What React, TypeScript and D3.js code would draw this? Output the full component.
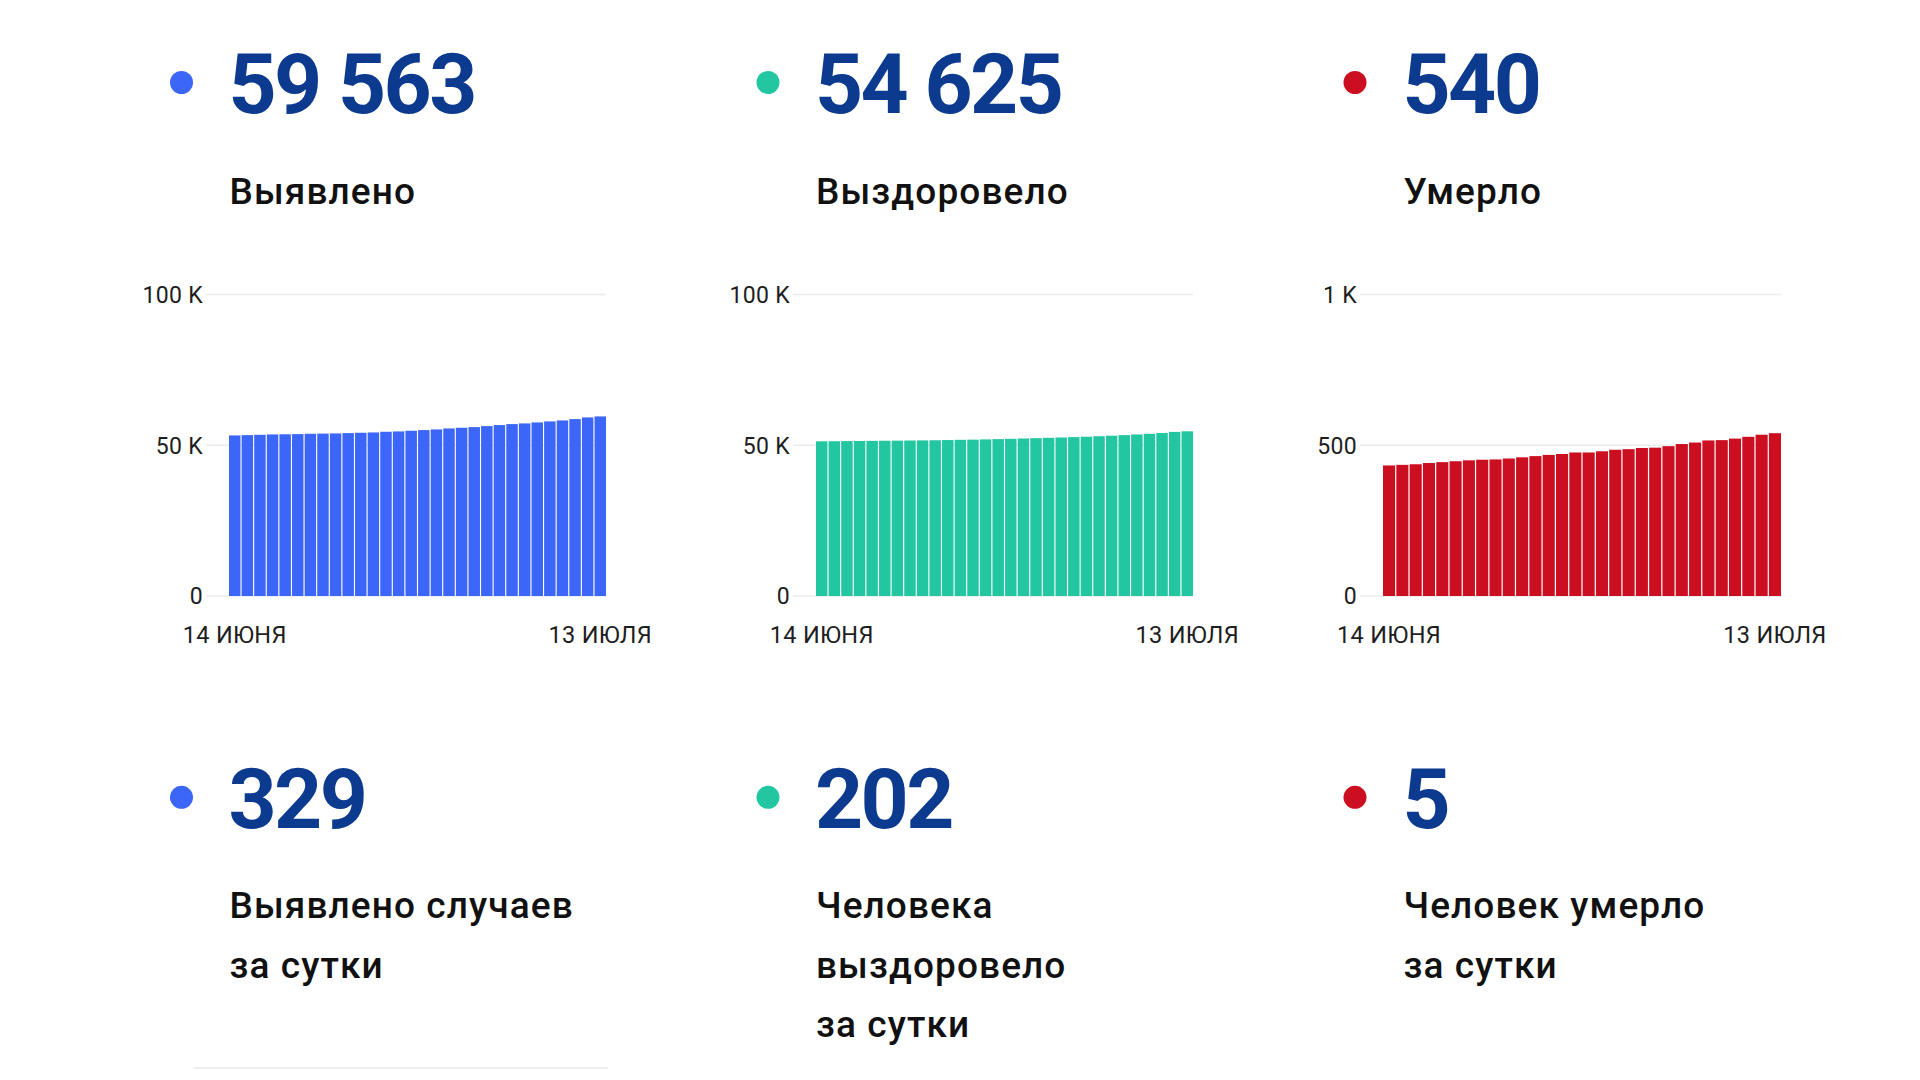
import React from "react";
import * as d3 from "d3";

const DAYS = [
  "14 ИЮНЯ", "15 ИЮНЯ", "16 ИЮНЯ", "17 ИЮНЯ", "18 ИЮНЯ", "19 ИЮНЯ", "20 ИЮНЯ", "21 ИЮНЯ", "22 ИЮНЯ",
  "23 ИЮНЯ", "24 ИЮНЯ", "25 ИЮНЯ", "26 ИЮНЯ", "27 ИЮНЯ", "28 ИЮНЯ", "29 ИЮНЯ", "30 ИЮНЯ",
  "1 ИЮЛЯ", "2 ИЮЛЯ", "3 ИЮЛЯ", "4 ИЮЛЯ", "5 ИЮЛЯ", "6 ИЮЛЯ", "7 ИЮЛЯ", "8 ИЮЛЯ", "9 ИЮЛЯ",
  "10 ИЮЛЯ", "11 ИЮЛЯ", "12 ИЮЛЯ", "13 ИЮЛЯ",
];

const CONFIRMED = [
  53253, 53364, 53474, 53585, 53640, 53696, 53807, 53862, 53917, 54028,
  54139, 54249, 54471, 54581, 54803, 55024, 55246, 55578, 55799, 56021,
  56353, 56685, 57017, 57238, 57570, 57903, 58235, 58677, 59234, 59563,
];

const RECOVERED = [
  51304, 51337, 51381, 51415, 51448, 51492, 51525, 51570, 51614, 51658,
  51725, 51802, 51858, 51946, 52035, 52135, 52245, 52356, 52467, 52577,
  52699, 52832, 52987, 53164, 53364, 53573, 53806, 54049, 54423, 54625,
];

const DEATHS = [
  433, 435, 437, 441, 444, 447, 450, 452, 453, 456,
  460, 464, 468, 471, 476, 476, 480, 485, 487, 491,
  492, 497, 504, 509, 516, 517, 522, 528, 535, 540,
];

const TOTALS = ["59 563", "54 625", "540"];
const TOTAL_LABELS = ["Выявлено", "Выздоровело", "Умерло"];
const DAILY = ["329", "202", "5"];
const DAILY_LABELS = [
  ["Выявлено случаев", "за сутки"],
  ["Человека", "выздоровело", "за сутки"],
  ["Человек умерло", "за сутки"],
];

const Y_TICKS_CASES = [0, 50000, 100000];
const Y_TICK_LABELS_CASES = ["0", "50 K", "100 K"];
const Y_TICKS_DEATHS = [0, 500, 1000];
const Y_TICK_LABELS_DEATHS = ["0", "500", "1 K"];

const COLORS = ["#3b66f7", "#22c7a1", "#cc0f20"];
const NUMBER_COLOR = "#0b3a8e";
const FONT = "Roboto, 'Noto Sans', sans-serif";

const SERIES = [CONFIRMED, RECOVERED, DEATHS];
const TICKS = [Y_TICKS_CASES, Y_TICKS_CASES, Y_TICKS_DEATHS];
const TICK_LABELS = [Y_TICK_LABELS_CASES, Y_TICK_LABELS_CASES, Y_TICK_LABELS_DEATHS];

// layout
const DOT_X = [181.5, 768, 1355];
const NUM_X = [228.5, 815, 1402.5];
const TEXT_X = [229.5, 816, 1403.5];
const PLOT_LEFT = [206, 793, 1360];
const PLOT_RIGHT = [606, 1193, 1781];
const BAR_OFFSET = 23;
const Y_TOP = 294.5;
const Y_BOTTOM = 596;

function MiniChart({ idx }: { idx: number }) {
  const data = SERIES[idx];
  const ticks = TICKS[idx];
  const tickLabels = TICK_LABELS[idx];
  const x = d3
    .scaleBand<string>()
    .domain(DAYS)
    .range([PLOT_LEFT[idx] + BAR_OFFSET, PLOT_RIGHT[idx]])
    .paddingInner(0.09)
    .paddingOuter(0);
  const y = d3
    .scaleLinear()
    .domain([0, ticks[ticks.length - 1]])
    .range([Y_BOTTOM, Y_TOP]);
  const first = DAYS[0];
  const last = DAYS[DAYS.length - 1];
  return (
    <g>
      {ticks.map((t, i) => (
        <g key={t}>
          <line
            x1={PLOT_LEFT[idx]}
            x2={PLOT_RIGHT[idx]}
            y1={y(t)}
            y2={y(t)}
            stroke="#ececec"
            strokeWidth={1.5}
          />
          <text
            x={PLOT_LEFT[idx] - 3}
            y={y(t)}
            dy="0.36em"
            textAnchor="end"
            fontSize={23}
            letterSpacing={0.3}
            fill="#1e1e1e"
            fontFamily={FONT}
          >
            {tickLabels[i]}
          </text>
        </g>
      ))}
      {data.map((v, i) => (
        <rect
          key={DAYS[i]}
          x={x(DAYS[i])}
          y={y(v)}
          width={x.bandwidth()}
          height={Y_BOTTOM - y(v)}
          fill={COLORS[idx]}
        />
      ))}
      {[first, last].map((d) => (
        <text
          key={d}
          x={(x(d) as number) + x.bandwidth() / 2}
          y={642.5}
          textAnchor="middle"
          fontSize={23.5}
          letterSpacing={0.3}
          fill="#1e1e1e"
          fontFamily={FONT}
        >
          {d}
        </text>
      ))}
    </g>
  );
}

export default function App() {
  return (
    <svg
      width={1920}
      height={1080}
      style={{ position: "absolute", left: 0, top: 0, background: "#fff" }}
    >
      <rect x={0} y={0} width={1920} height={1080} fill="#fff" />
      {[0, 1, 2].map((i) => (
        <g key={i}>
          <circle cx={DOT_X[i]} cy={82.5} r={11.5} fill={COLORS[i]} />
          <text
            x={NUM_X[i]}
            y={112.7}
            fontSize={84}
            fontWeight={700}
            letterSpacing={-2.6}
            fill={NUMBER_COLOR}
            fontFamily={FONT}
          >
            {TOTALS[i]}
          </text>
          <text
            x={TEXT_X[i]}
            y={204}
            fontSize={37}
            fontWeight={500}
            letterSpacing={1.1}
            fill="#111"
            fontFamily={FONT}
          >
            {TOTAL_LABELS[i]}
          </text>
          <MiniChart idx={i} />
          <circle cx={DOT_X[i]} cy={797.3} r={11.5} fill={COLORS[i]} />
          <text
            x={NUM_X[i]}
            y={827.5}
            fontSize={84}
            fontWeight={700}
            letterSpacing={-2.6}
            fill={NUMBER_COLOR}
            fontFamily={FONT}
          >
            {DAILY[i]}
          </text>
          {DAILY_LABELS[i].map((line, j) => (
            <text
              key={j}
              x={TEXT_X[i]}
              y={918 + j * 59.5}
              fontSize={37}
              fontWeight={500}
              letterSpacing={1.1}
              fill="#111"
              fontFamily={FONT}
            >
              {line}
            </text>
          ))}
        </g>
      ))}
      <line x1={194} x2={608} y1={1068} y2={1068} stroke="#eeeeee" strokeWidth={2} />
    </svg>
  );
}
